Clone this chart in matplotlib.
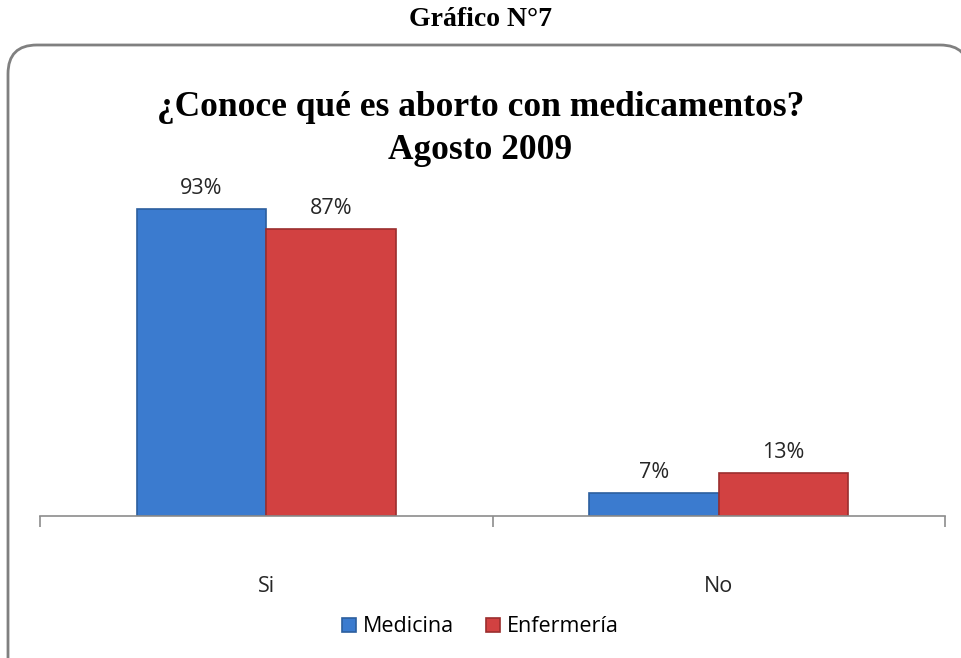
import numpy as np
import matplotlib.pyplot as plt
from matplotlib.patches import FancyBboxPatch

# datos
categorias = ['Si', 'No']
medicina = [93, 7]
enfermeria = [87, 13]
series = ['Medicina', 'Enfermería']

azul = '#3b7bcf'
rojo = '#d24141'

fig = plt.figure(figsize=(9.61, 6.58), dpi=100)

# marco redondeado del grafico
marco = FancyBboxPatch((8/961, -0.05), 1.0, 1 - 45/658 + 0.05,
                       boxstyle='round,pad=0,rounding_size=0.03',
                       transform=fig.transFigure, fc='white', ec='#808080', lw=2.0,
                       mutation_aspect=961/658, zorder=-1)
fig.patches.append(marco)

fig.text(0.5, 1 - 19/658, 'Gráfico N°7', ha='center', va='center',
         fontsize=20, fontweight='bold', family='Liberation Serif')
fig.text(0.5, 1 - 107/658, '¿Conoce qué es aborto con medicamentos?', ha='center', va='center',
         fontsize=25.5, fontweight='bold', family='Liberation Serif')
fig.text(0.5, 1 - 150/658, 'Agosto 2009', ha='center', va='center',
         fontsize=25.5, fontweight='bold', family='Liberation Serif')

ax = fig.add_axes([40/961, (658-516)/658, 905/961, 330/658])
ax.set_zorder(2)
x = np.arange(len(categorias))
w = 0.286

b1 = ax.bar(x - w/2, medicina, w, color=azul, edgecolor='#2c5f9e', lw=1.2, label=series[0])
b2 = ax.bar(x + w/2, enfermeria, w, color=rojo, edgecolor='#9b2e2e', lw=1.2, label=series[1])

for barras, vals in [(b1, medicina), (b2, enfermeria)]:
    for b, v in zip(barras, vals):
        ax.text(b.get_x() + b.get_width()/2, v + 3, f'{v}%', ha='center', va='bottom',
                fontsize=15.5, color='#262626', family='Open Sans')

ax.set_xlim(-0.5, 1.5)
ax.set_ylim(0, 100)
for s in ['top', 'right', 'left']:
    ax.spines[s].set_visible(False)
ax.spines['bottom'].set_color('#8c8c8c')
ax.spines['bottom'].set_linewidth(1.2)
ax.set_yticks([])
ax.set_xticks(x)
ax.set_xticklabels(categorias, fontsize=15.5, family='Open Sans', color='#262626')
ax.tick_params(axis='x', which='major', length=0, pad=43)
ax.set_xticks([-0.5, 0.5, 1.5], minor=True)
ax.tick_params(axis='x', which='minor', length=8, color='#8c8c8c', width=1.2)
ax.patch.set_alpha(0)

leg = fig.legend(handles=[b1, b2], labels=series, loc='center', bbox_to_anchor=(0.5, 1 - 627/658),
                 ncol=2, frameon=False, handlelength=0.65, handleheight=0.65, handletextpad=0.3,
                 columnspacing=1.5, prop={'family': 'Open Sans', 'size': 15.5})

fig.savefig('out.png', dpi=100)
